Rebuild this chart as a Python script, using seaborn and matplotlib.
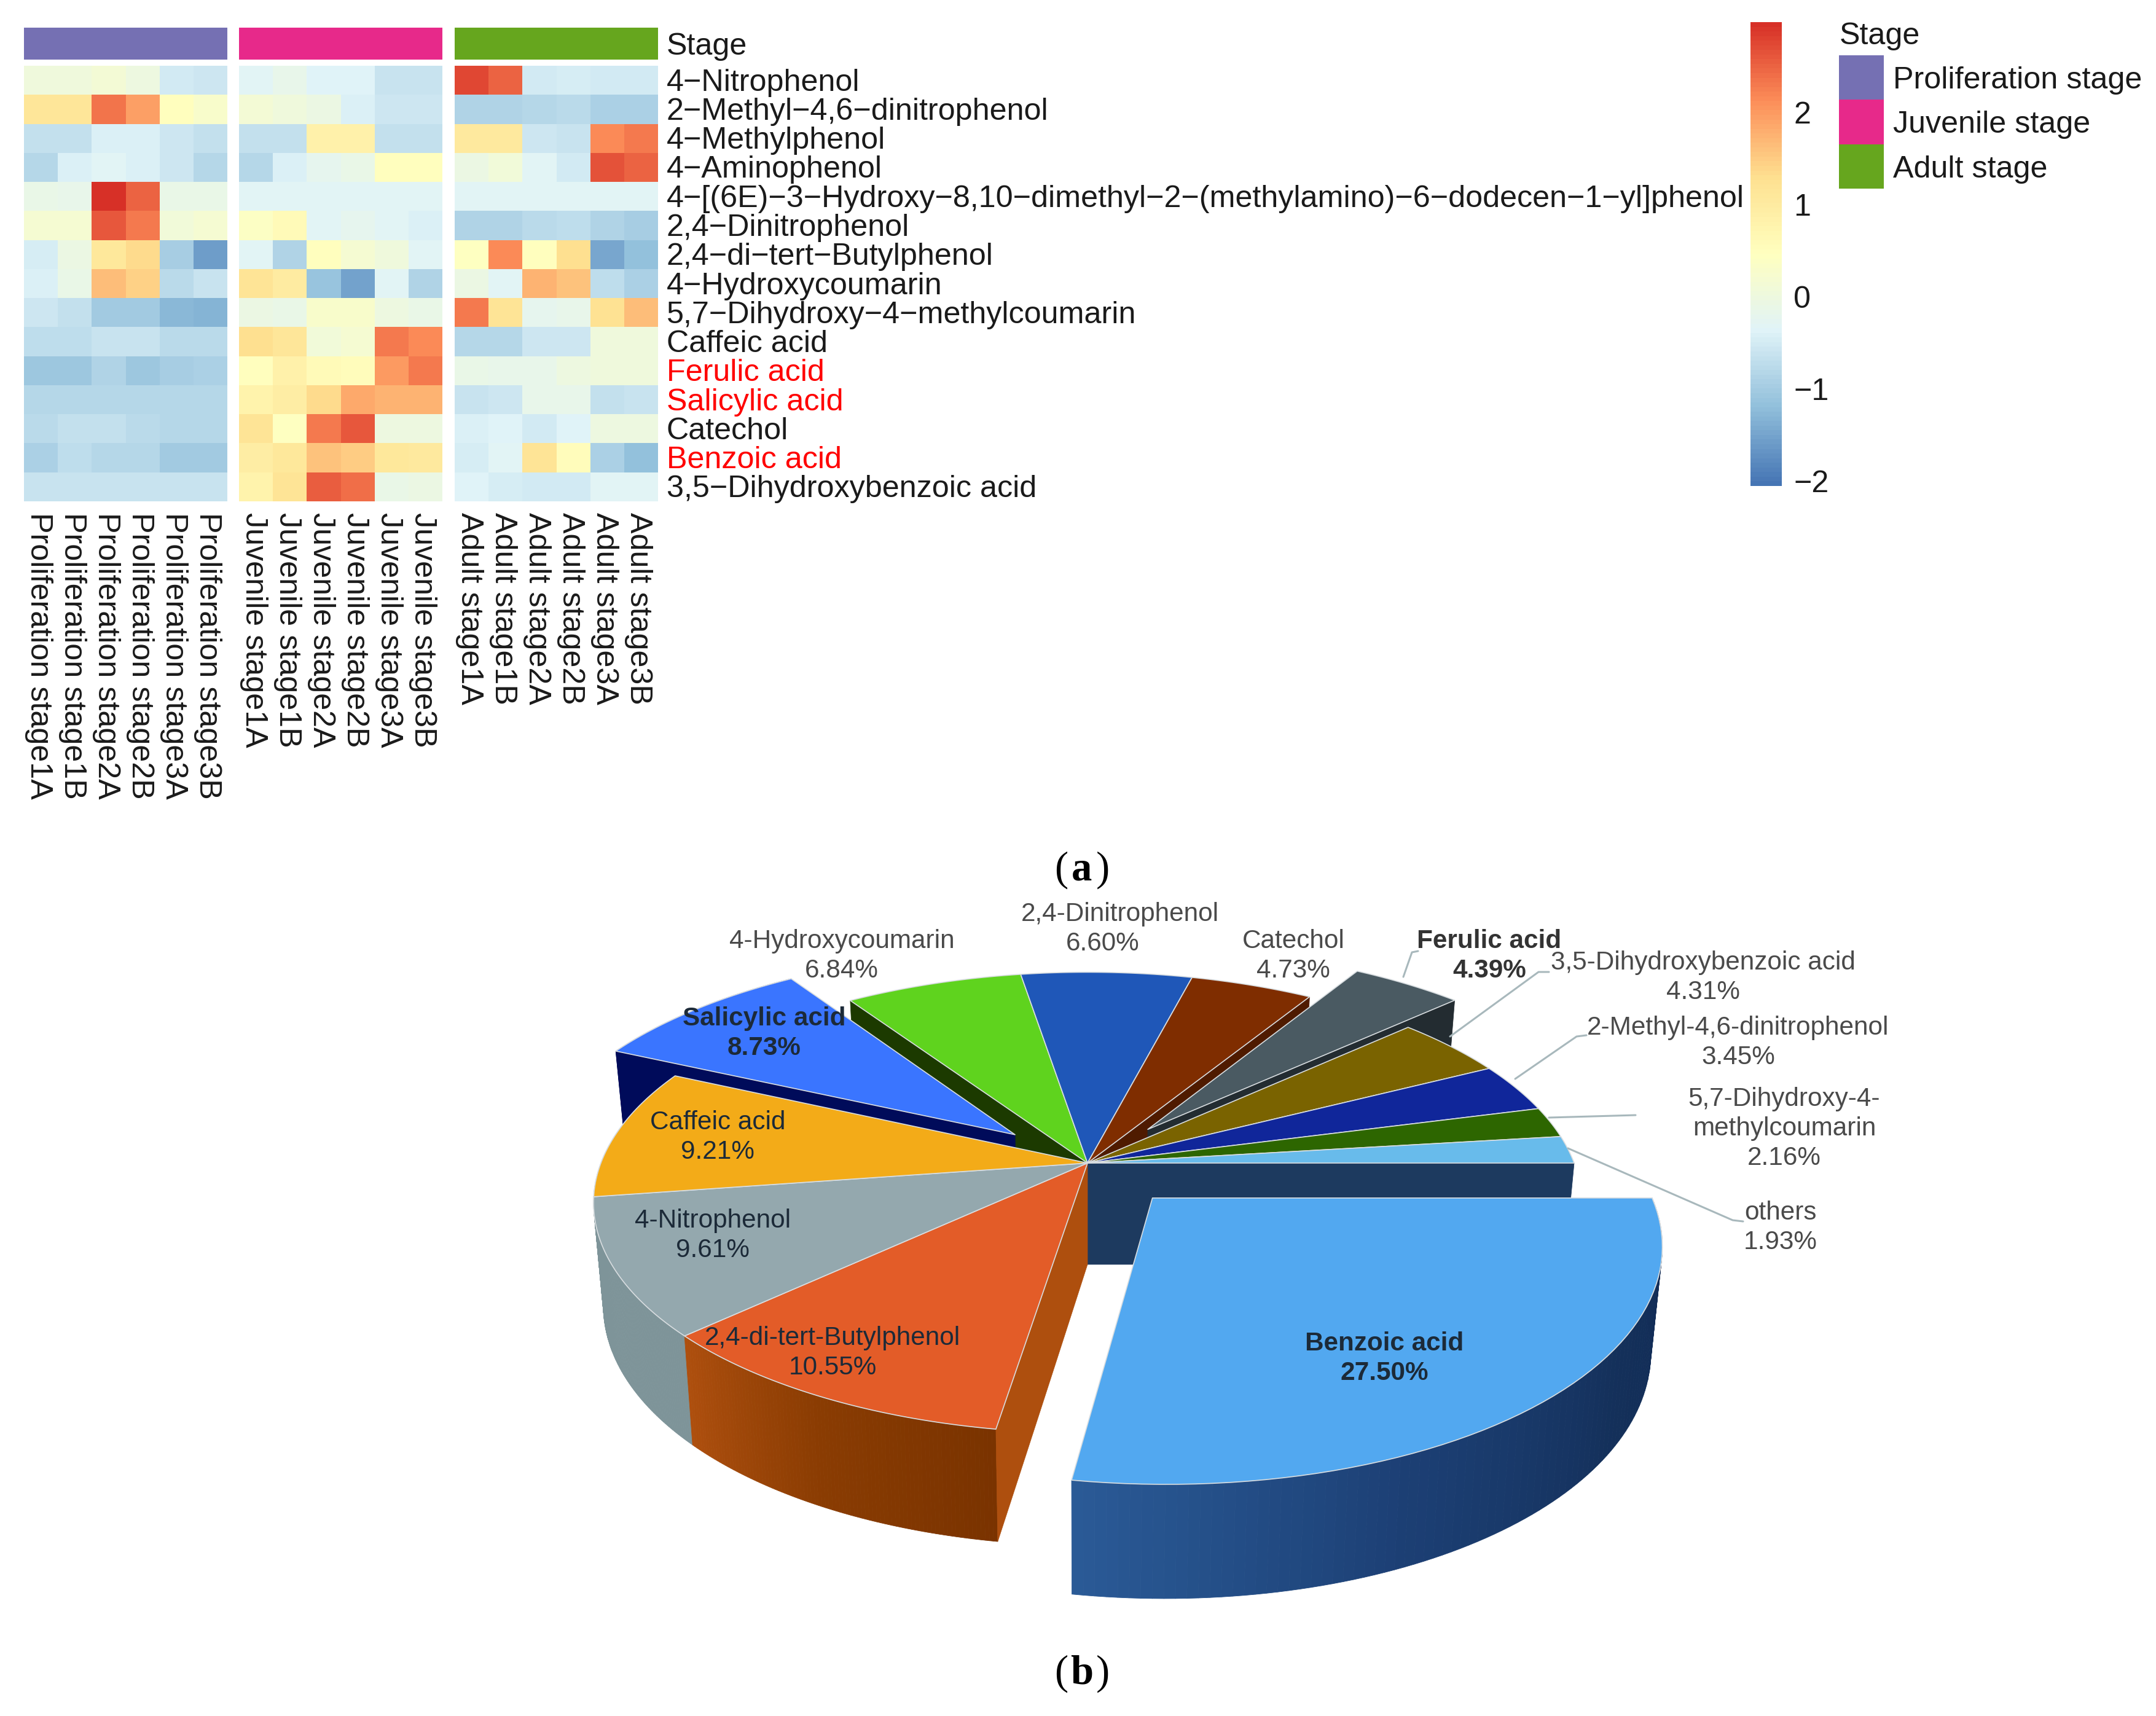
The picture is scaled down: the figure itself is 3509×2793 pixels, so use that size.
import numpy as np
import pandas as pd
import matplotlib
matplotlib.use("Agg")
import matplotlib.pyplot as plt
import seaborn as sns
from matplotlib.colors import LinearSegmentedColormap, ListedColormap, to_rgb
from matplotlib.patches import Rectangle
from matplotlib.transforms import ScaledTranslation

W, H = 3509, 2793

# --- heatmap data ---------------------------------------------------
compounds = ["4\u2212Nitrophenol", "2\u2212Methyl\u22124,6\u2212dinitrophenol", "4\u2212Methylphenol",
             "4\u2212Aminophenol",
             "4\u2212[(6E)\u22123\u2212Hydroxy\u22128,10\u2212dimethyl\u22122\u2212(methylamino)\u22126\u2212dodecen\u22121\u2212yl]phenol",
             "2,4\u2212Dinitrophenol", "2,4\u2212di\u2212tert\u2212Butylphenol", "4\u2212Hydroxycoumarin",
             "5,7\u2212Dihydroxy\u22124\u2212methylcoumarin", "Caffeic acid", "Ferulic acid", "Salicylic acid",
             "Catechol", "Benzoic acid", "3,5\u2212Dihydroxybenzoic acid"]
highlighted = ["Ferulic acid", "Salicylic acid", "Benzoic acid"]
stages = ["Proliferation stage", "Juvenile stage", "Adult stage"]
stage_colors = ["#7570B3", "#E7298A", "#66A61E"]
replicates = ["1A", "1B", "2A", "2B", "3A", "3B"]

proliferation = [
    [0.05, 0.05, 0.15, 0.0, -0.5, -0.58],
    [1.15, 1.15, 2.35, 1.95, 0.5, 0.3],
    [-0.66, -0.66, -0.4, -0.4, -0.58, -0.66],
    [-0.8, -0.42, -0.3, -0.4, -0.58, -0.8],
    [-0.1, -0.15, 3.0, 2.5, -0.1, -0.1],
    [0.2, 0.2, 2.6, 2.3, 0.1, 0.2],
    [-0.46, -0.05, 1.1, 1.35, -0.95, -1.55],
    [-0.42, -0.1, 1.65, 1.45, -0.75, -0.62],
    [-0.58, -0.66, -1.0, -1.0, -1.28, -1.32],
    [-0.72, -0.72, -0.64, -0.64, -0.75, -0.75],
    [-1.06, -1.06, -0.85, -1.06, -0.96, -0.9],
    [-0.83, -0.83, -0.83, -0.83, -0.83, -0.83],
    [-0.75, -0.68, -0.68, -0.75, -0.8, -0.8],
    [-0.9, -0.72, -0.8, -0.8, -1.02, -1.02],
    [-0.62, -0.62, -0.62, -0.62, -0.62, -0.62],
]
juvenile = [
    [-0.3, -0.15, -0.35, -0.35, -0.62, -0.62],
    [0.15, 0.05, -0.05, -0.4, -0.58, -0.58],
    [-0.66, -0.66, 0.85, 0.85, -0.66, -0.66],
    [-0.8, -0.42, -0.2, -0.1, 0.5, 0.5],
    [-0.3, -0.3, -0.3, -0.3, -0.3, -0.3],
    [0.4, 0.6, -0.3, -0.2, -0.3, -0.42],
    [-0.33, -0.85, 0.5, 0.2, 0.05, -0.3],
    [1.2, 1.0, -1.1, -1.52, -0.33, -0.85],
    [-0.05, -0.1, 0.3, 0.3, 0.0, -0.1],
    [1.3, 1.15, 0.1, 0.2, 2.3, 2.15],
    [0.5, 0.85, 0.6, 0.55, 2.0, 2.3],
    [0.8, 0.95, 1.35, 1.85, 1.75, 1.75],
    [1.2, 0.45, 2.3, 2.6, 0.0, 0.0],
    [0.95, 1.1, 1.6, 1.5, 1.1, 1.05],
    [0.8, 1.2, 2.55, 2.4, -0.1, -0.05],
]
adult = [
    [2.75, 2.5, -0.54, -0.46, -0.5, -0.5],
    [-0.88, -0.88, -0.84, -0.78, -0.92, -0.92],
    [1.05, 1.05, -0.58, -0.64, 2.15, 2.3],
    [-0.05, 0.1, -0.33, -0.54, 2.65, 2.5],
    [-0.3, -0.3, -0.3, -0.3, -0.3, -0.3],
    [-0.85, -0.85, -0.75, -0.72, -0.85, -0.95],
    [0.45, 2.15, 0.5, 1.3, -1.45, -1.15],
    [-0.05, -0.33, 1.75, 1.6, -0.72, -0.9],
    [2.3, 1.2, -0.2, -0.15, 1.25, 1.65],
    [-0.8, -0.8, -0.58, -0.58, 0.05, 0.05],
    [-0.1, -0.15, -0.15, 0.0, 0.05, 0.05],
    [-0.62, -0.58, -0.15, -0.15, -0.68, -0.62],
    [-0.42, -0.38, -0.5, -0.38, 0.0, 0.0],
    [-0.46, -0.33, 1.2, 0.55, -0.9, -1.15],
    [-0.38, -0.46, -0.5, -0.5, -0.3, -0.3],
]
cbar_ticks = [-2, -1, 0, 1, 2]

# --- pie data (clockwise from 3 o'clock) ----------------------------
pie_names = ["Benzoic acid", "2,4-di-tert-Butylphenol", "4-Nitrophenol", "Caffeic acid", "Salicylic acid",
             "4-Hydroxycoumarin", "2,4-Dinitrophenol", "Catechol", "Ferulic acid",
             "3,5-Dihydroxybenzoic acid", "2-Methyl-4,6-dinitrophenol", "5,7-Dihydroxy-4-\nmethylcoumarin", "others"]
pie_values = [27.50, 10.55, 9.61, 9.21, 8.73, 6.84, 6.60, 4.73, 4.39, 4.31, 3.45, 2.16, 1.93]
pie_exploded = ["Benzoic acid", "Salicylic acid", "Ferulic acid"]
pie_top = ["#52A8F0", "#E35C28", "#94A8AE", "#F3AB18", "#3A75FF", "#5FD31E", "#1F57B8",
           "#7F2D00", "#4A5A62", "#7A6300", "#10269A", "#2D6600", "#68BBEB"]

# --- theme ----------------------------------------------------------
sns.set_theme(style="white")
plt.rcParams["font.family"] = ["Liberation Sans", "DejaVu Sans"]
plt.rcParams["axes.linewidth"] = 0

fig = plt.figure(figsize=(W / 100, H / 100), dpi=100, facecolor="white")


def px_axes(x0, y0, x1, y1):
    return fig.add_axes([x0 / W, 1 - y1 / H, (x1 - x0) / W, (y1 - y0) / H])


rdylbu = LinearSegmentedColormap.from_list(
    "pheat", ["#4575B4", "#91BFDB", "#E0F3F8", "#FFFFBF", "#FEE090", "#FC8D59", "#D73027"], N=100)
VMIN, VMAX = -2.05, 2.98
HEAT_FS = 36.2

# --- heatmap panels -------------------------------------------------
panels = [(39, 370), (389, 720), (740, 1071)]
cax = px_axes(2849, 36, 2900, 791)

for i, (x0, x1) in enumerate(panels):
    vals = [proliferation, juvenile, adult][i]
    cols = [f"{stages[i]}{r}" for r in replicates]
    df = pd.DataFrame(vals, index=compounds, columns=cols)
    last = i == 2

    ax = px_axes(x0, 107, x1, 816)
    sns.heatmap(df, ax=ax, cmap=rdylbu, vmin=VMIN, vmax=VMAX, cbar=last, cbar_ax=cax if last else None,
                xticklabels=True, yticklabels=last, linewidths=0)
    ax.set_xlabel("")
    ax.set_ylabel("")
    ax.tick_params(axis="x", length=0, pad=13, labelsize=HEAT_FS, labelrotation=-90, colors="#1a1a1a")
    for t in ax.get_xticklabels():
        t.set_va("top")
        t.set_ha("center")
        t.set_transform(t.get_transform() + ScaledTranslation(-4 / 100, 0, fig.dpi_scale_trans))
    if last:
        ax.yaxis.tick_right()
        ax.tick_params(axis="y", length=0, pad=10, labelsize=HEAT_FS, labelrotation=0)
        for t in ax.get_yticklabels():
            t.set_color("#FF0000" if t.get_text() in highlighted else "#1a1a1a")
            t.set_va("center")
            t.set_transform(t.get_transform() + ScaledTranslation(0, -4 / 100, fig.dpi_scale_trans))

    # stage strip on top
    bar = px_axes(x0, 45, x1, 97)
    sns.heatmap([[i] * 6], ax=bar, cmap=ListedColormap([stage_colors[i]]), cbar=False,
                xticklabels=False, yticklabels=False)

cax.set_yticks(cbar_ticks)
cax.set_yticklabels(["\u2212" + str(-t) if t < 0 else str(t) for t in cbar_ticks])
cax.tick_params(axis="y", length=0, pad=14, labelsize=HEAT_FS, colors="#1a1a1a")
for sp in cax.spines.values():
    sp.set_visible(False)

# --- overlay in pixel coordinates ------------------------------------
ov = fig.add_axes([0, 0, 1, 1], zorder=5)
ov.set_xlim(0, W)
ov.set_ylim(H, 0)
ov.axis("off")
ov.patch.set_alpha(0)

ov.text(1085, 76, "Stage", fontsize=HEAT_FS, va="center", ha="left", color="#1a1a1a")
ov.text(2994, 59, "Stage", fontsize=HEAT_FS, va="center", ha="left", color="#1a1a1a")
for i, (name, col) in enumerate(zip(stages, stage_colors)):
    y0 = 90 + i * 72.4
    ov.add_patch(Rectangle((2993, y0), 73, 72.4, facecolor=col, edgecolor="none"))
    ov.text(3081, y0 + 41, name, fontsize=HEAT_FS, va="center", ha="left", color="#1a1a1a")

# --- 3D pie ---------------------------------------------------------
CX, CY, A, B, K = 1770, 1893, 792, 364, 0.172
DEPTH, EXPLODE = 165, 0.2


def proj(u, v, low=False):
    w = 1 + K * v
    x = A * u / w
    y = CY - B * v / w
    if low:
        x *= 0.98
        y += DEPTH * (1 - 0.11 * v)
    return CX + x, y


edges = np.concatenate([[0], np.cumsum(pie_values)]) / np.sum(pie_values) * -2 * np.pi
slices = {}
for name, top, a0, a1 in zip(pie_names, pie_top, edges[:-1], edges[1:]):
    mid = (a0 + a1) / 2
    off = (EXPLODE * np.cos(mid), EXPLODE * np.sin(mid)) if name in pie_exploded else (0, 0)
    slices[name] = dict(a0=a0, a1=a1, off=off, top=top)


def top_face(name, lw=1.2):
    s = slices[name]
    t = np.linspace(s["a0"], s["a1"], 60)
    u = np.r_[s["off"][0], s["off"][0] + np.cos(t)]
    v = np.r_[s["off"][1], s["off"][1] + np.sin(t)]
    x, y = proj(u, v)
    ov.fill(x, y, facecolor=s["top"], edgecolor="#D8DDE0", lw=lw, joinstyle="round")


def radial_wall(name, angle, color):
    s = slices[name]
    u = np.linspace(0, 1, 12)
    cu, cv = s["off"][0] + u * np.cos(angle), s["off"][1] + u * np.sin(angle)
    xt, yt = proj(cu, cv)
    xb, yb = proj(cu, cv, low=True)
    ov.fill(np.r_[xt, xb[::-1]], np.r_[yt, yb[::-1]], facecolor=color, edgecolor=color, lw=0.5)


def outer_wall(name, colors):
    s = slices[name]
    t = np.linspace(s["a0"], s["a1"], 90)
    cu, cv = s["off"][0] + np.cos(t), s["off"][1] + np.sin(t)
    xt, yt = proj(cu, cv)
    xb, yb = proj(cu, cv, low=True)
    stops = np.array([to_rgb(c) for c in colors])
    pos = np.linspace(0, 1, len(colors))
    for j in range(len(t) - 1):
        f = j / (len(t) - 2)
        c = [np.interp(f, pos, stops[:, k]) for k in range(3)]
        ov.fill([xt[j], xt[j + 1], xb[j + 1], xb[j]], [yt[j], yt[j + 1], yb[j + 1], yb[j]],
                facecolor=c, edgecolor=c, lw=0.6)


# back walls first, the tops go over them
radial_wall("Catechol", slices["Catechol"]["a1"], "#4F1B00")
radial_wall("4-Hydroxycoumarin", slices["4-Hydroxycoumarin"]["a0"], "#1C3A00")
outer_wall("Salicylic acid", ["#000B5A", "#000B5A"])
radial_wall("Salicylic acid", slices["Salicylic acid"]["a0"], "#000B5A")
top_face("Salicylic acid")
radial_wall("Ferulic acid", slices["Ferulic acid"]["a1"], "#232C31")
top_face("Ferulic acid")
radial_wall("others", slices["others"]["a1"], "#1D3A5F")

outer_wall("Caffeic acid", ["#7E9499", "#7E9499"])
outer_wall("4-Nitrophenol", ["#7E9499", "#7E9499"])
outer_wall("2,4-di-tert-Butylphenol", ["#7A3300", "#8A3C02", "#AE4F0E"])
radial_wall("2,4-di-tert-Butylphenol", slices["2,4-di-tert-Butylphenol"]["a0"], "#AE4F0E")

for name in pie_names:
    if name not in pie_exploded:
        top_face(name)

outer_wall("Benzoic acid", ["#102A55", "#14305A", "#1C3F74", "#2A5A96"])
top_face("Benzoic acid")

# --- pie labels ------------------------------------------------------
label_pos = {
    "Benzoic acid": (2253, 2187), "2,4-di-tert-Butylphenol": (1355, 2178), "4-Nitrophenol": (1160, 1987),
    "Caffeic acid": (1168, 1827), "Salicylic acid": (1244, 1658), "4-Hydroxycoumarin": (1370, 1532),
    "2,4-Dinitrophenol": (1823, 1488), "Catechol": (2105, 1532), "Ferulic acid": (2424, 1532),
    "3,5-Dihydroxybenzoic acid": (2772, 1567), "2-Methyl-4,6-dinitrophenol": (2829, 1673),
    "5,7-Dihydroxy-4-\nmethylcoumarin": (2904, 1789), "others": (2898, 1974),
}
PIE_FS = 30.4
for name, val in zip(pie_names, pie_values):
    x, y = label_pos[name]
    bold = name in pie_exploded
    on_slice = name in ["Benzoic acid", "2,4-di-tert-Butylphenol", "4-Nitrophenol", "Caffeic acid", "Salicylic acid"]
    col = "#1c2a38" if bold or on_slice else "#4a4a4a"
    if name == "Ferulic acid":
        col = "#333333"
    fw = "bold" if bold else "normal"
    lines = name.split("\n")
    for j, line in enumerate(lines):
        ov.text(x, y + j * 48, line, fontsize=PIE_FS, ha="center", va="center", color=col, fontweight=fw)
    px = x - 28 if name == "2,4-Dinitrophenol" else x
    ov.text(px, y + len(lines) * 48, f"{val:.2f}%", fontsize=PIE_FS, ha="center", va="center", color=col, fontweight=fw)

leaders = [
    ([2284, 2298, 2308], [1590, 1550, 1548]),
    ([2360, 2504, 2521], [1687, 1582, 1582]),
    ([2466, 2566, 2582], [1756, 1687, 1685]),
    ([2521, 2662], [1819, 1815]),
    ([2552, 2820, 2837], [1869, 1986, 1988]),
]
for lx, ly in leaders:
    ov.plot(lx, ly, color="#A8B8BC", lw=2.2)

# --- panel letters ---------------------------------------------------
for letter, y in [("a", 1416), ("b", 2724)]:
    ov.text(1727, y, "(", family="Liberation Serif", fontsize=48, ha="center", va="center", color="black")
    ov.text(1761, y, letter, family="Liberation Serif", fontsize=48, ha="center", va="center",
            fontweight="bold", color="black")
    ov.text(1795, y, ")", family="Liberation Serif", fontsize=48, ha="center", va="center", color="black")

fig.savefig("out.png", dpi=100, facecolor="white")
